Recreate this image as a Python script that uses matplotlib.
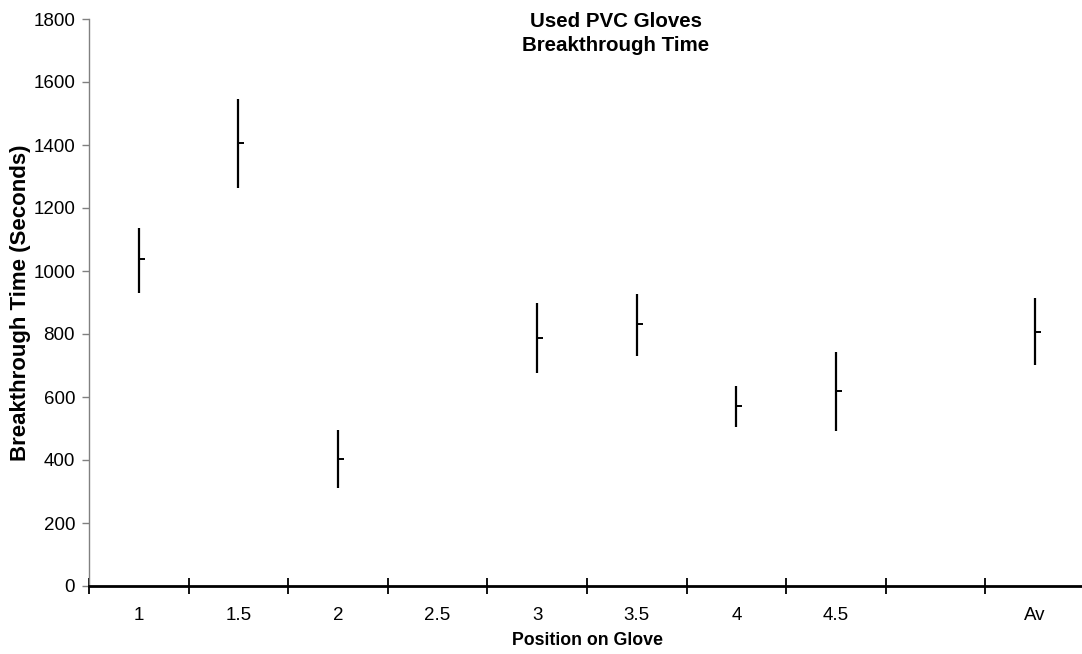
import matplotlib
import matplotlib.pyplot as plt
import numpy as np

matplotlib.use('Agg')
plt.rcParams['font.family'] = ['Liberation Sans', 'DejaVu Sans']

# positions on the glove, one empty slot before the average
positions = ['1', '1.5', '2', '2.5', '3', '3.5', '4', '4.5', '', 'Av']
high = [1138, 1546, 495, np.nan, 897, 927, 636, 742, np.nan, 913]
low = [929, 1263, 312, np.nan, 675, 730, 506, 491, np.nan, 701]
mean = [1037, 1407, 404, np.nan, 788, 832, 571, 618, np.nan, 807]

fig = plt.figure(figsize=(10.82, 6.54), dpi=100)
ax = fig.add_axes([89 / 1082, 68 / 654, 996 / 1082, 567 / 654])

x = np.arange(len(positions)) + 0.5
ax.vlines(x, low, high, color='black', lw=1.6)
ax.plot(x, mean, linestyle='none', marker=1, markersize=4, mew=1.4, color='black')

ax.set_xlim(0, len(positions))
ax.set_ylim(0, 1800)
ax.set_yticks(np.arange(0, 1801, 200))

ax.set_xticks(np.arange(0, len(positions) + 1))
ax.set_xticklabels([])
ax.set_xticks(x, minor=True)
ax.set_xticklabels(positions, minor=True)
ax.tick_params(axis='x', which='major', direction='inout', length=12, width=1.3, color='black')
ax.tick_params(axis='x', which='minor', length=0, pad=15, labelsize=13.5)
ax.tick_params(axis='y', direction='out', length=5, width=1, color='#808080', pad=5, labelsize=13.5)

for side in ['top', 'right']:
    ax.spines[side].set_visible(False)
ax.spines['left'].set_color('#808080')
ax.spines['left'].set_linewidth(1)
ax.spines['bottom'].set_color('black')
ax.spines['bottom'].set_linewidth(2)

ax.set_xlabel('Position on Glove', fontsize=12.8, fontweight='bold', labelpad=6)
ax.set_ylabel('Breakthrough Time (Seconds)', fontsize=16, fontweight='bold')
ax.yaxis.set_label_coords(-0.058, 0.5)

fig.text(616 / 1082, 1 - 12 / 654, 'Used PVC Gloves\nBreakthrough Time',
         ha='center', va='top', fontsize=14.8, fontweight='bold', linespacing=1.35)

fig.savefig('out.png', dpi=100)
